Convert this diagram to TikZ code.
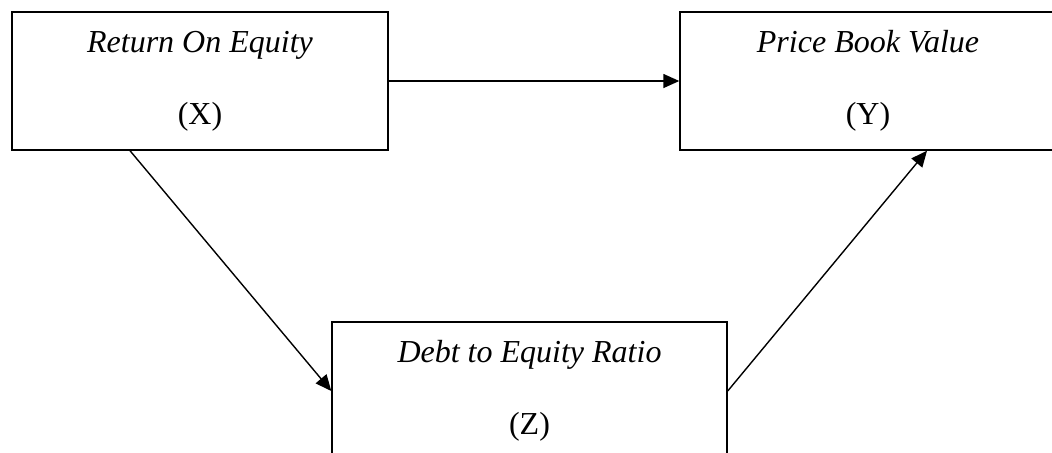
\documentclass[tikz,border=0pt]{standalone}
\usepackage{fontspec}
\setmainfont{Liberation Serif}
\usetikzlibrary{arrows.meta}
\usetikzlibrary{calc}

\tikzset{
  varbox/.style = {draw, line width=0.7pt, rectangle, inner sep=0pt,
    minimum width=188pt, minimum height=69pt, align=center,
    font=\fontsize{16}{36}\selectfont},
  link/.style = {line width=0.7pt, -{Triangle[length=8pt,width=7pt]}}
}

\begin{document}
\begin{tikzpicture}[x=0.5pt, y=-0.5pt]
      \useasboundingbox (0,0) rectangle (1052,452);
      \clip (0,0) rectangle (1052,452);

      % variables
      \node[varbox] (roe) at (200,81)   {\textit{Return On Equity}\\(X)};
      \node[varbox] (pbv) at (868,81)   {\textit{Price Book Value}\\(Y)};
      \node[varbox, minimum width=197.5pt] (der) at (529.5,391) {\textit{Debt to Equity Ratio}\\(Z)};

      % paths
      \draw[link] (roe.east) -- (pbv.west);
      \draw[link] ([xshift=-35pt]roe.south) -- (der.west);
      \draw[link] (der.east) -- ([xshift=29.5pt]pbv.south);
    \end{tikzpicture}
\end{document}
